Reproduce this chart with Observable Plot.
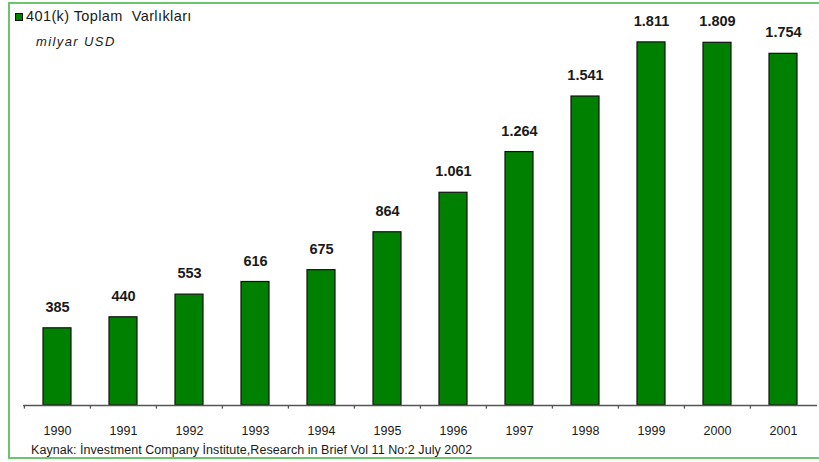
<!DOCTYPE html>
<html>
<head>
<meta charset="utf-8">
<script src="https://cdn.jsdelivr.net/npm/d3@7"></script>
<script src="https://cdn.jsdelivr.net/npm/@observablehq/plot@0.6"></script>
<style>
  html, body { margin: 0; padding: 0; background: #fff; }
  #wrap { position: relative; width: 819px; height: 462px; overflow: hidden; font-family: "Liberation Sans", Arial, sans-serif; }
  #frame { position: absolute; left: 8px; top: 2px; width: 830px; height: 457px; border: 2px solid #6cc46c; box-sizing: border-box; }
  #chart { position: absolute; left: 0; top: 0; }
  .title { position: absolute; left: 26px; top: 8px; font-size: 14.5px; letter-spacing: 0.4px; color: #1a1a1a; white-space: pre; }
  .swatch { position: absolute; left: 15px; top: 13px; width: 6px; height: 6px; background: #008000; border: 1px solid #111; }
  .subtitle { position: absolute; left: 36px; top: 34px; font-size: 13px; letter-spacing: 1.4px; font-style: italic; color: #1a1a1a; }
  .caption { position: absolute; left: 31px; top: 443px; font-size: 12.5px; letter-spacing: 0.05px; color: #1a1a1a; white-space: pre; }
</style>
</head>
<body>
<div id="wrap">
  <div id="frame"></div>
  <div id="chart"></div>
  <div class="swatch"></div>
  <div class="title">401(k) Toplam  Varlıkları</div>
  <div class="subtitle">milyar USD</div>
  <div class="caption">Kaynak: İnvestment Company İnstitute,Research in Brief Vol 11 No:2 July 2002</div>
</div>
<script>
const years = ["1990","1991","1992","1993","1994","1995","1996","1997","1998","1999","2000","2001"];
const values = [385, 440, 553, 616, 675, 864, 1061, 1264, 1541, 1811, 1809, 1754];

const data = years.map((y, i) => ({year: y, value: values[i]}));
const trFormat = d3.formatLocale({decimal: ",", thousands: ".", grouping: [3], currency: ["", ""]}).format(",");

const W = 819, H = 462, ML = 23, MR = 2;
const step = (W - ML - MR) / years.length;

const plot = Plot.plot({
  width: W,
  height: H,
  marginLeft: ML,
  marginRight: MR,
  marginTop: 4,
  marginBottom: 57,
  style: {background: "transparent", fontFamily: "'Liberation Sans', Arial, sans-serif"},
  x: {domain: years, paddingInner: 0.58, paddingOuter: 0.29, tickSize: 0, tickPadding: 21, label: null},
  y: {domain: [0, 2000], axis: null},
  marks: [
    Plot.barY(data, {x: "year", y: "value", fill: "#008000", stroke: "#111", strokeWidth: 1.2}),
    Plot.ruleX(data, {x: "year", y1: 0, y2: -18, dx: -step / 2, stroke: "#555", strokeWidth: 1.3}),
    Plot.ruleY([0], {stroke: "#555", strokeWidth: 1.6}),
    Plot.text(data, {x: "year", y: "value", text: d => trFormat(d.value), dy: -21, fontWeight: "bold", fontSize: 14.5, fill: "#1a1a1a"}),
    Plot.axisX({tickSize: 0, tickPadding: 21, fontSize: 12.5, fill: "#1a1a1a", label: null})
  ]
});
document.getElementById("chart").appendChild(plot);
</script>
</body>
</html>
